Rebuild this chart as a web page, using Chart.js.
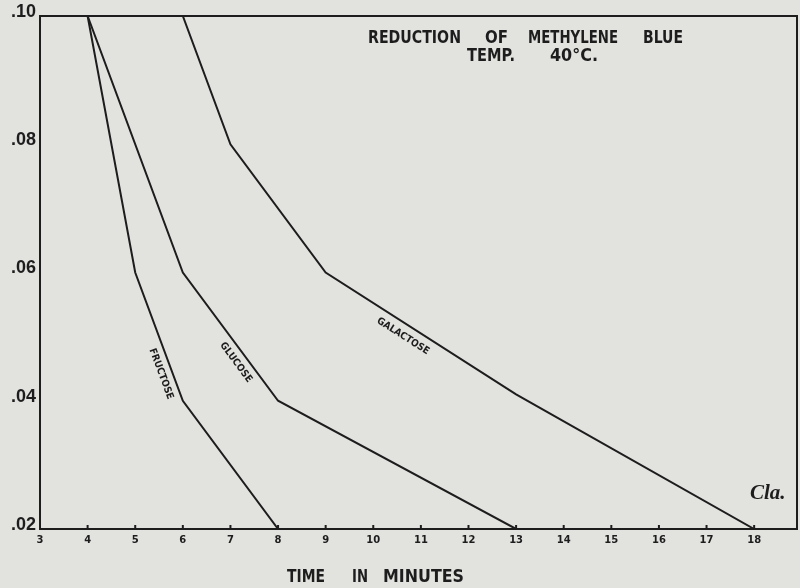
<!DOCTYPE html>
<html>
<head>
<meta charset="utf-8">
<script src="https://cdn.jsdelivr.net/npm/chart.js@4/dist/chart.umd.min.js"></script>
<style>
  html, body { margin: 0; padding: 0; background: #e2e2df; }
  #wrap { width: 800px; height: 588px; position: relative; }
</style>
</head>
<body>
<div id="wrap"><canvas id="myChart"></canvas></div>
<script>
// values
const fructoseTime = [4, 5, 6, 8];
const fructoseValue = [0.10, 0.06, 0.04, 0.02];
const glucoseTime = [4, 6, 8, 13];
const glucoseValue = [0.10, 0.06, 0.04, 0.02];
const galactoseTime = [6, 7, 9, 13, 18];
const galactoseValue = [0.10, 0.08, 0.06, 0.041, 0.02];
const xTicks = [3, 4, 5, 6, 7, 8, 9, 10, 11, 12, 13, 14, 15, 16, 17, 18];
const yTicks = [0.02, 0.04, 0.06, 0.08, 0.10];

const ink = "#1d1d1d";
const paper = "#e2e2df";
const letterFont = '"DejaVu Sans", sans-serif';

const toPoints = (xs, ys) => xs.map((x, i) => ({ x: x, y: ys[i] }));

// names written along one segment of each curve
const curveLabels = [
  { text: "FRUCTOSE", xs: fructoseTime, ys: fructoseValue, seg: 1, t: 0.76, off: 11 },
  { text: "GLUCOSE", xs: glucoseTime, ys: glucoseValue, seg: 1, t: 0.65, off: 11 },
  { text: "GALACTOSE", xs: galactoseTime, ys: galactoseValue, seg: 2, t: 0.44, off: 12 },
];

const paperPlugin = {
  id: "paper",
  beforeDraw(chart) {
    const c = chart.ctx;
    c.save();
    c.fillStyle = paper;
    c.fillRect(0, 0, chart.width, chart.height);
    c.restore();
  },
};

// stencil lettering is narrow, so squeeze each word into the width it has on the sheet
function drawWords(c, words, y) {
  c.font = "bold 18px " + letterFont;
  c.textBaseline = "alphabetic";
  c.textAlign = "left";
  words.forEach(([w, x, width]) => {
    const k = width / c.measureText(w).width;
    c.save();
    c.translate(x, y);
    c.scale(k, 1);
    c.fillText(w, 0, 0);
    c.restore();
  });
}

const decorPlugin = {
  id: "decor",
  afterDraw(chart) {
    const c = chart.ctx;
    const a = chart.chartArea;
    const xs = chart.scales.x;
    const ys = chart.scales.y;
    c.save();
    c.strokeStyle = ink;
    c.fillStyle = ink;
    c.lineWidth = 2;
    c.strokeRect(a.left, a.top, a.right - a.left, a.bottom - a.top);

    // little tick marks standing on the time axis
    xTicks.forEach(v => {
      const px = xs.getPixelForValue(v);
      c.beginPath();
      c.moveTo(px, a.bottom);
      c.lineTo(px, a.bottom - 4);
      c.stroke();
    });

    // title
    drawWords(c, [["REDUCTION", 368, 93], ["OF", 485, 23], ["METHYLENE", 528, 90], ["BLUE", 643, 40]], 43);
    drawWords(c, [["TEMP.", 467, 48], ["40°C.", 550, 48]], 61);
    // axis title
    drawWords(c, [["TIME", 287, 38], ["IN", 352, 16], ["MINUTES", 383, 81]], 582);

    // curve names
    c.font = "bold 10px " + letterFont;
    c.textAlign = "center";
    c.textBaseline = "middle";
    curveLabels.forEach(l => {
      const i = l.seg;
      const x0 = xs.getPixelForValue(l.xs[i]), y0 = ys.getPixelForValue(l.ys[i]);
      const x1 = xs.getPixelForValue(l.xs[i + 1]), y1 = ys.getPixelForValue(l.ys[i + 1]);
      const ang = Math.atan2(y1 - y0, x1 - x0);
      const fx = x0 + l.t * (x1 - x0), fy = y0 + l.t * (y1 - y0);
      c.save();
      c.translate(fx - l.off * Math.sin(ang), fy + l.off * Math.cos(ang));
      c.rotate(ang);
      c.scale(0.9, 1);
      c.fillText(l.text, 0, 0);
      c.restore();
    });

    // initials in the corner
    c.font = 'italic bold 21px "Liberation Serif", serif';
    c.textAlign = "left";
    c.textBaseline = "alphabetic";
    c.fillText("Cla.", 750, 499);
    c.restore();
  },
};

const ctx = document.getElementById("myChart").getContext("2d");

const lineStyle = {
  borderColor: ink,
  borderWidth: 2,
  pointRadius: 0,
  tension: 0,
  fill: false,
};

const data = {
  datasets: [
    { label: "Fructose", data: toPoints(fructoseTime, fructoseValue), ...lineStyle },
    { label: "Glucose", data: toPoints(glucoseTime, glucoseValue), ...lineStyle },
    { label: "Galactose", data: toPoints(galactoseTime, galactoseValue), ...lineStyle },
  ],
};

const config = {
  type: "line",
  data: data,
  options: {
    responsive: true,
    maintainAspectRatio: false,
    animation: false,
    layout: { padding: { top: 16, right: 3, left: 0, bottom: 0 } },
    plugins: {
      legend: { display: false },
      tooltip: { enabled: false },
    },
    scales: {
      x: {
        type: "linear",
        min: 3,
        max: 18.9,
        grid: { display: false, drawTicks: false },
        border: { display: false },
        afterBuildTicks: s => { s.ticks = xTicks.map(v => ({ value: v })); },
        afterFit: s => { s.height = 59; },
        ticks: {
          color: ink,
          padding: 5,
          maxRotation: 0,
          autoSkip: false,
          font: { family: letterFont, weight: "bold", size: 10 },
          callback: v => String(v),
        },
      },
      y: {
        min: 0.02,
        max: 0.10,
        grid: { display: false, drawTicks: false },
        border: { display: false },
        afterBuildTicks: s => { s.ticks = yTicks.map(v => ({ value: v })); },
        afterFit: s => { s.width = 40; },
        ticks: {
          color: ink,
          padding: 4,
          labelOffset: -4,
          font: { family: "Liberation Sans", weight: "bold", size: 18 },
          callback: v => v.toFixed(2).slice(1),
        },
      },
    },
  },
  plugins: [paperPlugin, decorPlugin],
};

const myLineChart = new Chart(ctx, config);
</script>
</body>
</html>
